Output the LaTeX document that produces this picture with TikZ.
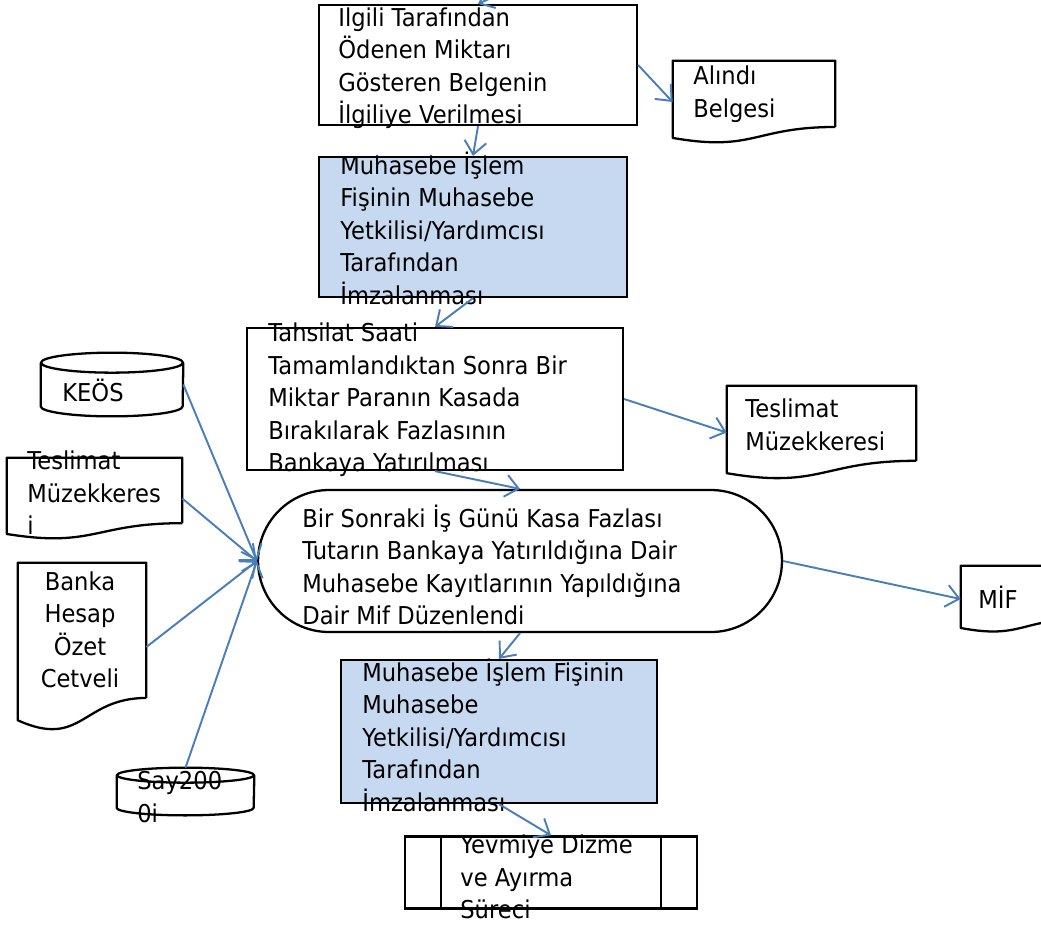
\documentclass[tikz,border=0pt]{standalone}
\usepackage{fontspec}
\setmainfont{DejaVu Sans}[FakeStretch=0.92]
\usetikzlibrary{calc,arrows.meta}
\definecolor{fisblue}{RGB}{198,217,241}
\definecolor{okblue}{RGB}{74,126,187}

\begin{document}
\begin{tikzpicture}[x=0.02cm, y=0.02cm,
    box/.style={rectangle, draw=black, line width=1.3pt, inner sep=0pt},
    fisbox/.style={box, fill=fisblue},
    frame/.style={rectangle, draw=none, inner sep=0pt},
    outline/.style={draw=black, line width=1.3pt, line join=round},
    txt/.style={anchor=west, align=left, inner sep=0pt, font=\fontsize{14}{18.5}\selectfont},
    flow/.style={draw=okblue, line width=1.1pt, -{Straight Barb[length=2.6mm,width=4.4mm]}}]
    \useasboundingbox (0,0) rectangle (1041,-924);

    % islem kutulari
    \node[box, minimum width=6.36cm, minimum height=2.4cm] (verilme) at (478,-65) {};
    \node[fisbox, minimum width=6.16cm, minimum height=2.8cm] (imza1) at (473,-227) {};
    \node[box, minimum width=7.52cm, minimum height=2.84cm] (tahsilat) at (435,-399) {};
    \node[box, rounded corners=1.42cm, minimum width=10.48cm, minimum height=2.84cm] (mif) at (520,-561) {};
    \node[fisbox, minimum width=6.32cm, minimum height=2.86cm] (imza2) at (499,-731.5) {};
    \node[box, minimum width=5.84cm, minimum height=1.44cm] (yevmiye) at (551,-872.5) {};
    \draw[outline] ($(yevmiye.north west)+(37,0)$) -- ($(yevmiye.south west)+(37,0)$);
    \draw[outline] ($(yevmiye.north east)+(-37,0)$) -- ($(yevmiye.south east)+(-37,0)$);

    % belgeler
    \node[frame, minimum width=3.24cm, minimum height=1.64cm] (alindi) at (754,-102) {};
    \node[frame, minimum width=3.78cm, minimum height=1.86cm] (teslimR) at (821.5,-432.5) {};
    \node[frame, minimum width=2.4cm, minimum height=1.32cm] (mifbelge) at (1021,-599) {};
    \node[frame, minimum width=3.5cm, minimum height=1.62cm] (teslimL) at (94.5,-498.5) {};
    \node[frame, minimum width=2.56cm, minimum height=3.36cm] (banka) at (82,-647) {};
    \foreach \d in {alindi,teslimR,mifbelge,teslimL,banka}{
      \draw[outline] ($(\d.north east)!0.802!(\d.south east)$) -- (\d.north east) -- (\d.north west)
        -- ($(\d.north west)!0.934!(\d.south west)$)
        .. controls ($(\d.north)!1.107!(\d.south)$) and ($(\d.north)!0.802!(\d.south)$)
        .. ($(\d.north east)!0.802!(\d.south east)$);
    }

    % veri tabanlari
    \node[frame, minimum width=2.84cm, minimum height=1.26cm] (keos) at (112,-384.5) {};
    \node[frame, minimum width=2.74cm, minimum height=0.94cm] (say) at (185.5,-791.5) {};
    \foreach \c/\rx/\ry in {keos/1.42cm/0.2cm, say/1.37cm/0.15cm}{
      \draw[outline] ($(\c.north west)+(0,-\ry)$) -- ($(\c.south west)+(0,\ry)$)
        arc[start angle=180, end angle=360, x radius=\rx, y radius=\ry]
        -- ($(\c.north east)+(0,-\ry)$);
      \draw[outline] ($(\c.north)+(0,-\ry)$) ellipse[x radius=\rx, y radius=\ry];
    }

    % yazilar
    \node[txt] (verilmeT) at (338,-68) {Ilgili Tarafından\\Ödenen Miktarı\\Gösteren Belgenin\\İlgiliye Verilmesi};
    \node[txt] (imza1T) at (340,-228) {Muhasebe İşlem\\Fişinin Muhasebe\\Yetkilisi/Yardımcısı\\Tarafından\\İmzalanması};
    \node[txt] (tahsilatT) at (268,-400) {Tahsilat Saati\\Tamamlandıktan Sonra Bir\\Miktar Paranın Kasada\\Bırakılarak Fazlasının\\Bankaya Yatırılması};
    \node[txt] (mifT) at (302,-565) {Bir Sonraki İş Günü Kasa Fazlası\\Tutarın Bankaya Yatırıldığına Dair\\Muhasebe Kayıtlarının Yapıldığına\\Dair Mif Düzenlendi};
    \node[txt] (imza2T) at (362,-735) {Muhasebe İşlem Fişinin\\Muhasebe\\Yetkilisi/Yardımcısı\\Tarafından\\İmzalanması};
    \node[txt] (yevmiyeT) at (460,-877) {Yevmiye Dizme\\ve Ayırma\\Süreci};
    \node[txt] (alindiT) at (693,-94) {Alındı\\Belgesi};
    \node[txt] (teslimRT) at (745,-425) {Teslimat\\Müzekkeresi};
    \node[txt] (mifbelgeT) at (978,-597) {MİF};
    \node[txt] (teslimLT) at (27,-493) {Teslimat\\Müzekkeres\\i};
    \node[txt, anchor=center, align=center] (bankaT) at (80,-630) {Banka\\Hesap\\Özet\\Cetveli};
    \node[txt] (keosT) at (62,-390) {KEÖS};
    \node[txt] (sayT) at (137,-797) {Say200\\0i};

    % oklar
    \coordinate (ust) at (500,6);
    \draw[flow] (ust) -- (verilme.north);
    \draw[flow] (verilme.east) -- (alindi.west);
    \draw[flow] (verilme.south) -- (imza1.north);
    \draw[flow] (imza1.south) -- (tahsilat.north);
    \draw[flow] (tahsilat.east) -- (teslimR.west);
    \draw[flow] (tahsilat.south) -- (mif.north);
    \draw[flow] (mif.east) -- (mifbelge.west);
    \draw[flow] (mif.south) -- (imza2.north);
    \draw[flow] (imza2.south) -- (yevmiye.north);
    \foreach \k in {keos.east, teslimL.east, banka.east, say.north}
      \draw[flow] (\k) -- (mif.west);
\end{tikzpicture}
\end{document}
